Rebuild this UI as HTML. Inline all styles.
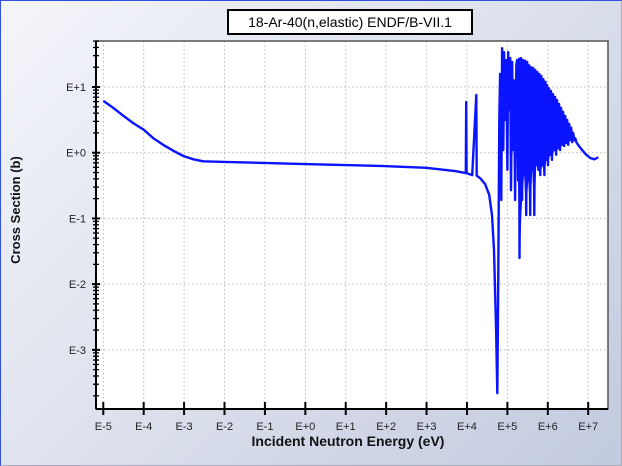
<!DOCTYPE html>
<html><head><meta charset="utf-8">
<style>
html,body{margin:0;padding:0;}
body{width:622px;height:466px;overflow:hidden;font-family:"Liberation Sans",sans-serif;}
#bg{position:absolute;left:0;top:0;width:620px;height:464px;border:1px solid #3050e0;border-right-color:#aab;border-bottom-color:#aab;background:linear-gradient(135deg,#f4f5fa 0%,#dfe3ee 45%,#c2cadf 100%);}
svg{position:absolute;left:0;top:0;}
</style></head>
<body>
<div id="bg"></div>
<svg id="chart" width="622" height="466"></svg>
<script>
// data: log10(Energy eV) and log10(cross section b)
const logE = [-5,-4.75,-4.5,-4.26,-4.0,-3.76,-3.52,-3.27,-3.02,-2.77,-2.53,-2.0,-0.13,1.85,2.99,3.71,3.97,
3.98,3.99,4.13,4.23,4.24,4.33,4.45,4.55,4.62,4.67,4.72,4.75,4.77,4.8,4.82,4.85,4.87,4.9,4.92,4.95,4.97,5.0,5.02,5.04,5.07,5.09,5.12,5.14,5.17,5.19,5.22,
5.24,5.265,5.29,5.30,5.315,5.34,5.365,5.39,5.415,5.44,5.465,5.49,5.515,5.54,5.565,5.59,5.615,5.64,5.665,5.69,5.715,5.74,5.765,5.79,5.815,5.84,5.865,5.89,5.915,5.94,5.965,5.98,6.005,6.03,6.055,6.08,6.105,6.13,6.155,6.18,6.205,6.23,6.255,6.28,6.305,6.33,6.355,6.38,6.405,6.43,6.455,6.48,6.505,6.53,6.555,6.58,6.605,6.63,6.655,6.68,6.705,
6.75,6.85,6.95,7.05,7.15,7.25];
const logS = [0.79,0.68,0.56,0.45,0.35,0.22,0.12,0.03,-0.05,-0.10,-0.13,-0.14,-0.17,-0.20,-0.23,-0.28,-0.31,
0.77,-0.31,-0.34,0.88,-0.35,-0.39,-0.48,-0.64,-0.95,-1.48,-2.70,-3.66,-2.24,0.5,1.2,-0.72,1.59,0.04,1.53,0.5,1.41,-0.26,1.53,0.65,1.44,-0.57,1.38,0.04,1.1,-0.72,1.33,
1.41,-0.42,1.43,-1.6,-0.26,1.44,-0.72,1.41,-0.34,1.40,-0.95,1.38,-0.42,1.33,-0.95,1.30,-0.26,1.29,-0.95,1.26,-0.19,1.23,-0.26,1.20,-0.34,1.17,-0.19,1.12,-0.34,1.08,-0.11,1.03,-0.19,0.98,-0.03,0.94,-0.11,0.89,0.04,0.85,-0.03,0.80,0.07,0.74,0.04,0.68,0.12,0.62,0.10,0.56,0.15,0.50,0.12,0.44,0.19,0.38,0.16,0.30,0.19,0.22,0.16,
0.12,0.04,-0.03,-0.08,-0.10,-0.07];
const xTickExps = [-5,-4,-3,-2,-1,0,1,2,3,4,5,6,7];
const yTickExps = [1,0,-1,-2,-3];

const NS="http://www.w3.org/2000/svg";
const svg=document.getElementById('chart');
const L=96,R=608,T=41,B=409;
const xMin=-5.18,xMax=7.49,yMin=-3.90,yMax=1.70;
const X=v=>L+(v-xMin)/(xMax-xMin)*(R-L);
const Y=v=>B-(v-yMin)/(yMax-yMin)*(B-T);
function mk(tag,attrs,parent){const e=document.createElementNS(NS,tag);for(const k in attrs)e.setAttribute(k,attrs[k]);(parent||svg).appendChild(e);return e;}
const fmt=n=>'E'+(n<0?'-':'+')+Math.abs(n);

let plot=mk('rect',{x:L,y:T,width:R-L,height:B-T,fill:'#fff',stroke:'none'});



xTickExps.forEach(e=>{
  const g=mk('line',{x1:X(e),x2:X(e),y1:T,y2:B,stroke:'#bbb','stroke-width':1,'stroke-dasharray':'1.5,2.5'});
  
  
});
yTickExps.forEach(e=>{
  const g=mk('line',{x1:L,x2:R,y1:Y(e),y2:Y(e),stroke:'#bbb','stroke-width':1,'stroke-dasharray':'1.5,2.5'});
  
  
});

const cp=mk('clipPath',{id:'cp'});mk('rect',{x:L,y:T,width:R-L,height:B-T},cp);
// envelope fill of dense resonance region (local maxima forward, local minima backward)
const tops=[],bots=[];
for(let i=1;i<logE.length-1;i++){
  if(logE[i]<5.2||logE[i]>6.72)continue;
  if(logS[i]>=logS[i-1]&&logS[i]>=logS[i+1])tops.push([X(logE[i]),Y(logS[i])]);
  else if(logS[i]<=logS[i-1]&&logS[i]<=logS[i+1])bots.push([X(logE[i]),Y(logS[i])]);
}
let pd='';
tops.forEach((p,k)=>{pd+=(k?'L':'M')+p[0].toFixed(1)+','+p[1].toFixed(1);});
bots.slice().reverse().forEach(p=>{pd+='L'+p[0].toFixed(1)+','+p[1].toFixed(1);});
pd+='Z';
const env=mk('path',{d:pd,fill:'#0a14ff',stroke:'none','clip-path':'url(#cp)'});



let d='';
for(let i=0;i<logE.length;i++){d+=(i?'L':'M')+X(logE[i]).toFixed(1)+','+Y(logS[i]).toFixed(1);}
const line=mk('path',{d:d,fill:'none',stroke:'#0a14ff','stroke-width':2.4,'stroke-linejoin':'round','clip-path':'url(#cp)'});



const fr=mk('rect',{x:L,y:T,width:R-L,height:B-T,fill:'none',stroke:'#555','stroke-width':1.5});


const ya=mk('line',{x1:L,x2:L,y1:T,y2:B,stroke:'#000','stroke-width':2});


const xa=mk('line',{x1:L,x2:R,y1:B,y2:B,stroke:'#000','stroke-width':2});



xTickExps.forEach(e=>{
  const t=mk('line',{x1:X(e),x2:X(e),y1:B-7,y2:B+6,stroke:'#000','stroke-width':2});
  
  
  const tx=mk('text',{x:X(e),y:B+21,'text-anchor':'middle','font-size':11,fill:'#222'});
  tx.textContent=fmt(e);
  
  
});
yTickExps.forEach(e=>{
  const t=mk('line',{x1:L-4,x2:L+4,y1:Y(e),y2:Y(e),stroke:'#000','stroke-width':2});
  
  
  const tx=mk('text',{x:L-10,y:Y(e)+4,'text-anchor':'end','font-size':11,fill:'#222'});
  tx.textContent=fmt(e);
  
  
});
for(let q=-4;q<=1;q++){for(let m=2;m<=9;m++){const v=q+Math.log10(m);if(v<yMin||v>yMax)continue;
  const t=mk('line',{x1:L-3,x2:L+3,y1:Y(v),y2:Y(v),stroke:'#000','stroke-width':1.3});
  
  
}}

const tb=mk('rect',{x:228,y:10,width:244,height:24,fill:'#fff',stroke:'#000','stroke-width':2});


const tt=mk('text',{x:350,y:27,'text-anchor':'middle','font-size':14,fill:'#000'});
tt.textContent='18-Ar-40(n,elastic) ENDF/B-VII.1';


const xt=mk('text',{x:(L+R)/2-4,y:446,'text-anchor':'middle','font-size':14,'font-weight':'bold',fill:'#111'});
xt.textContent='Incident Neutron Energy (eV)';


const yt=mk('text',{x:0,y:0,'text-anchor':'middle','font-size':13,'font-weight':'bold',fill:'#111',transform:'translate(20,210) rotate(-90)'});
yt.textContent='Cross Section (b)';


</script>
</body></html>
